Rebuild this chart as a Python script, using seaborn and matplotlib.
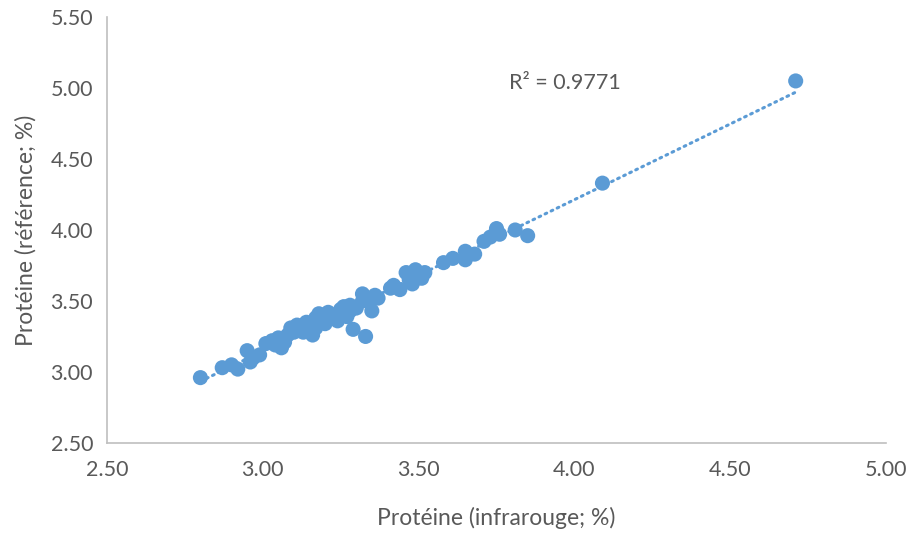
import matplotlib
matplotlib.use("Agg")
import matplotlib.pyplot as plt
import seaborn as sns
import pandas as pd

infrarouge = [2.80, 2.87, 2.90, 2.92, 2.95, 2.96, 2.97, 2.99, 3.01, 3.03,
              3.04, 3.05, 3.06, 3.07, 3.08, 3.09, 3.10, 3.11, 3.12, 3.13,
              3.14, 3.15, 3.15, 3.16, 3.17, 3.17, 3.18, 3.19, 3.20, 3.21,
              3.22, 3.23, 3.24, 3.25, 3.26, 3.26, 3.27, 3.28, 3.28, 3.29,
              3.30, 3.32, 3.32, 3.33, 3.34, 3.35, 3.36, 3.37, 3.41, 3.42,
              3.44, 3.46, 3.47, 3.49, 3.48, 3.51, 3.52, 3.58, 3.61, 3.65,
              3.65, 3.68, 3.71, 3.73, 3.75, 3.76, 3.81, 3.85, 4.09, 4.71]
reference = [2.96, 3.03, 3.05, 3.02, 3.15, 3.07, 3.10, 3.12, 3.20, 3.22,
             3.19, 3.24, 3.17, 3.21, 3.26, 3.31, 3.28, 3.33, 3.30, 3.28,
             3.35, 3.29, 3.33, 3.26, 3.38, 3.31, 3.41, 3.36, 3.34, 3.42,
             3.38, 3.40, 3.36, 3.44, 3.41, 3.46, 3.39, 3.47, 3.43, 3.30,
             3.45, 3.50, 3.55, 3.25, 3.50, 3.43, 3.54, 3.52, 3.59, 3.61,
             3.58, 3.70, 3.65, 3.72, 3.62, 3.66, 3.70, 3.77, 3.80, 3.85,
             3.79, 3.83, 3.92, 3.95, 4.01, 3.97, 4.00, 3.96, 4.33, 5.05]
r2_label = "R² = 0.9771"
xlabel = "Protéine (infrarouge; %)"
ylabel = "Protéine (référence; %)"
ticks_x = [2.50, 3.00, 3.50, 4.00, 4.50, 5.00]
ticks_y = [2.50, 3.00, 3.50, 4.00, 4.50, 5.00, 5.50]

df = pd.DataFrame({"x": infrarouge, "y": reference})

sns.set_theme(style="white")
plt.rcParams["font.family"] = ["Lato", "DejaVu Sans"]

blue = "#5B9BD5"
grey = "#595959"
axis_grey = "#BFBFBF"

fig = plt.figure(figsize=(9.06, 5.33), dpi=100)
ax = fig.add_axes([0.118, 0.169, 0.860, 0.799])

sns.regplot(data=df, x="x", y="y", ax=ax, scatter=False, ci=None, truncate=True,
            line_kws=dict(color=blue, lw=2.2, ls=(0, (0.6, 1.6)),
                          dash_capstyle="round", zorder=1))
sns.scatterplot(data=df, x="x", y="y", ax=ax, color=blue, s=118,
                edgecolor="none", linewidth=0, alpha=1, zorder=3)

ax.set_xlim(2.5, 5.0)
ax.set_ylim(2.5, 5.5)
ax.set_xticks(ticks_x)
ax.set_yticks(ticks_y)
ax.set_xticklabels([f"{t:.2f}" for t in ticks_x])
ax.set_yticklabels([f"{t:.2f}" for t in ticks_y])
ax.tick_params(axis="both", colors=grey, labelsize=15.5, length=5, width=1,
               direction="out", color=axis_grey, pad=5)
ax.tick_params(axis="x", pad=7)

for side in ["top", "right"]:
    ax.spines[side].set_visible(False)
for side in ["left", "bottom"]:
    ax.spines[side].set_color(axis_grey)
    ax.spines[side].set_linewidth(1.2)

ax.set_xlabel(xlabel, color=grey, fontsize=16.5, labelpad=20)
ax.set_ylabel(ylabel, color=grey, fontsize=16.5, labelpad=10)

ax.text(3.79, 5.035, r2_label, color=grey, fontsize=15.5, ha="left", va="center")

fig.savefig("out.png", dpi=100)
